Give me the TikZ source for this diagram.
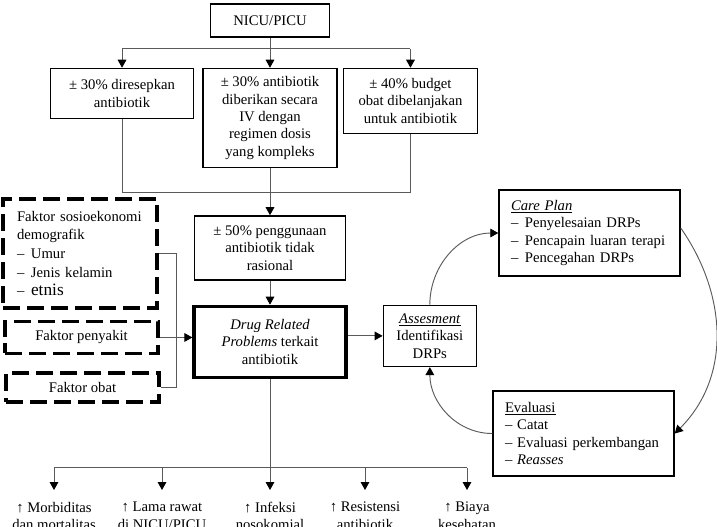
\documentclass[tikz,border=0pt]{standalone}
\usepackage{fontspec}
\setmainfont{Liberation Serif}
\usetikzlibrary{positioning}
\usetikzlibrary{arrows.meta}
\definecolor{lineGray}{HTML}{5a5a5a}
\tikzset{
    box/.style={rectangle, draw, line width=1.1pt, align=center, inner sep=0pt},
    drpbox/.style={box, line width=2.4pt},
    dashbox/.style={rectangle, draw, line width=2.6pt, dash pattern=on 13pt off 5pt, align=left, inner sep=0pt},
    listbox/.style={box, align=left},
    conn/.style={draw=lineGray, line width=0.7pt},
    arr/.style={conn, -{Triangle[length=6pt, width=6.5pt, color=black]}},
    outcome/.style={align=center, inner sep=0pt, anchor=north},
}

\begin{document}
\begin{tikzpicture}[x=0.75pt, y=0.75pt, font=\fontsize{11}{13}\selectfont]
    \pgfmathsetmacro{\px}{0.75}
    \useasboundingbox (0,0) rectangle (717,-526);
    \clip (0,0) rectangle (717,-526);

    \node (nicu) [box, minimum width=119*\px pt, minimum height=33*\px pt] at (270,-20.5) {NICU/PICU};
    \node (rxB) [box, minimum width=134*\px pt, minimum height=99*\px pt, below=30*\px pt of nicu] {± 30\% antibiotik\\diberikan secara\\IV dengan\\regimen dosis\\yang kompleks};
    \node (rxA) [box, minimum width=143*\px pt, minimum height=50*\px pt, left=8*\px pt of rxB.north west, anchor=north east] {± 30\% diresepkan\\antibiotik};
    \node (rxC) [box, minimum width=134*\px pt, minimum height=65*\px pt, right=5*\px pt of rxB.north east, anchor=north west] {± 40\% budget\\obat dibelanjakan\\untuk antibiotik};
    \node (irr) [box, minimum width=151*\px pt, minimum height=64*\px pt, below=47*\px pt of rxB] {± 50\% penggunaan\\antibiotik tidak\\rasional};
    \node (drp) [drpbox, minimum width=152*\px pt, minimum height=71*\px pt, below=24*\px pt of irr] {\textit{Drug Related}\\\textit{Problems} terkait\\antibiotik};
    \node (asm) [box, minimum width=93*\px pt, minimum height=61*\px pt, right=35*\px pt of drp.north east, anchor=north west] {\underline{\textit{Assesment}}\\Identifikasi\\DRPs};

    \node (care) [listbox, text width=157*\px pt, inner xsep=12*\px pt, minimum height=86*\px pt] at (589.5,-233) {\underline{\textit{Care Plan}}\\–\hspace{5pt}Penyelesaian DRPs\\–\hspace{5pt}Pencapain luaran terapi\\–\hspace{5pt}Pencegahan DRPs};
    \node (eval) [listbox, text width=157*\px pt, inner xsep=12*\px pt, minimum height=85*\px pt] at (583.5,-433.5) {\underline{Evaluasi}\\– Catat\\– Evaluasi perkembangan\\– \textit{Reasses}};

    \node (fsos) [dashbox, text width=126*\px pt, inner xsep=14*\px pt, minimum height=109*\px pt, font=\fontsize{11}{14}\selectfont] at (80,-253.5) {Faktor sosioekonomi\\demografik\\–\hspace{5pt}Umur\\–\hspace{5pt}Jenis kelamin\\–\hspace{5pt}{\fontsize{13}{15}\selectfont etnis}};
    \node (fpeny) [dashbox, align=center, minimum width=153*\px pt, minimum height=32*\px pt, below=10*\px pt of fsos, xshift=1.5*\px pt] {Faktor penyakit};
    \node (fobat) [dashbox, align=center, minimum width=153*\px pt, minimum height=29*\px pt, below=16*\px pt of fpeny, xshift=1*\px pt] {Faktor obat};

    \node (out1) [outcome] at (54,-502) {↑ Morbiditas\\dan mortalitas};
    \node (out2) [outcome] at (162,-502) {↑ Lama rawat\\di NICU/PICU};
    \node (out3) [outcome] at (270,-502) {↑ Infeksi\\nosokomial};
    \node (out4) [outcome] at (365,-502) {↑ Resistensi\\antibiotik};
    \node (out5) [outcome] at (467,-502) {↑ Biaya\\kesehatan};

    % NICU/PICU to the three facts
    \coordinate (tsplit) at ([yshift=-11*\px pt]nicu.south);
    \draw [arr] (nicu.south) -- (rxB.north);
    \draw [conn] (rxA.north |- tsplit) -- (rxC.north |- tsplit);
    \draw [arr] (rxA.north |- tsplit) -- (rxA.north);
    \draw [arr] (rxC.north |- tsplit) -- (rxC.north);

    \coordinate (jsplit) at ([yshift=-24*\px pt]rxB.south);
    \draw [conn] (rxA.south) |- (jsplit) -| (rxC.south);
    \draw [arr] (rxB.south) -- (irr.north);
    \draw [arr] (irr.south) -- (drp.north);
    \draw [arr] (asm.west -| drp.east) -- (asm.west);

    % risk factors
    \coordinate (brk) at ([xshift=17*\px pt]fpeny.east);
    \draw [conn] (fsos.east) -| (brk) |- (fobat.east);
    \draw [arr] (fpeny.east) -- (fpeny.east -| drp.west);

    % outcomes
    \coordinate (bsplit) at ([yshift=-89*\px pt]drp.south);
    \draw [conn] (out1.north |- bsplit) -- (out5.north |- bsplit);
    \draw [arr, shorten >=12*\px pt] (drp.south) -- (out3.north);
    \foreach \o in {out1,out2,out4,out5}
        \draw [arr, shorten >=12*\px pt] (\o.north |- bsplit) -- (\o.north);

    % care cycle
    \draw [arr] (asm.north) to[out=90, in=180] (care.west);
    \draw [arr] ([yshift=5*\px pt]care.east) to[out=-55, in=45] (eval.east);
    \draw [arr] (eval.west) to[out=180, in=-90] (asm.south);
\end{tikzpicture}
\end{document}
